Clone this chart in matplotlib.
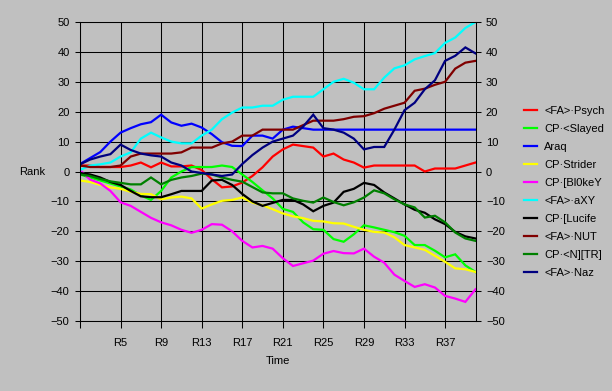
import numpy as np
import matplotlib
matplotlib.use('Agg')
import matplotlib.pyplot as plt

# rounds R1..R40 on the category axis
rounds = ['R%d' % i for i in range(1, 41)]

psych = [2, 2, 1.5, 1.5, 1.5, 2, 3, 1.4, 3, 1.7, 1.7, 2, 0.5, -2.6, -5.3, -5, -3.7, -1.5, 1.4, 5,
         7.4, 9, 8.5, 8, 5, 6, 4, 3, 1.3, 2, 2, 2, 2, 2, 0, 1, 1, 1, 2, 3]
slayed = [-1, -2, -3, -4, -5, -6, -8, -9.5, -6.5, -2, 0, 1.5, 1.5, 1.5, 2, 1.5, -1, -3.5, -6.3, -9,
          -12.5, -13.5, -17, -19.3, -19.5, -22.6, -23.5, -21, -18, -18.7, -19.5, -20.3, -21.5, -24.6, -24.6, -26.5, -28.7, -27.7, -31.4, -33.6]
araq = [2.5, 4.5, 6.5, 10, 13, 14.5, 15.8, 16.5, 19, 16.4, 15.3, 16, 14.7, 12.5, 9.8, 8.6, 8.5, 12, 12, 11,
        14, 15, 14.5, 14, 14, 14, 14, 14, 14, 14, 14, 14, 14, 14, 14, 14, 14, 14, 14, 14]
strider = [-3, -3.5, -4.5, -5.3, -5.8, -6.8, -7.5, -7.6, -9.3, -8.7, -8.4, -9, -12.4, -11, -9.8, -9.5, -8.7, -10.4, -11.3, -12.6,
           -14, -15, -15.6, -16.5, -16.7, -17.3, -17.4, -18.5, -19.5, -20.2, -20.4, -22, -24.6, -25.4, -26.2, -28.2, -30.2, -32.4, -32.7, -33.6]
blokey = [0.5, -2.7, -4, -6.5, -10.3, -11.5, -13.5, -15.5, -17, -18, -19.5, -20.5, -19.5, -17.6, -17.8, -20, -23.2, -25.4, -24.9, -25.8,
          -29, -31.6, -30.7, -29.8, -27.5, -26.6, -27.3, -27.4, -25.8, -28.5, -30.5, -34.5, -36.6, -38.6, -37.7, -38.8, -41.6, -42.5, -43.6, -39.4]
axy = [0.5, 2, 2.4, 3, 5, 6.4, 11, 13, 11.4, 10, 9.4, 9.4, 12, 14, 17.5, 19.7, 21.4, 21.4, 22, 22,
       24, 25, 25, 25, 27.5, 30, 31, 29.7, 27.5, 27.5, 31.4, 34.5, 35.5, 37.5, 38.6, 39.6, 43, 44.8, 48, 50]
lucife = [-0.5, -1, -2, -3.5, -4.5, -6.5, -8.3, -8.6, -8.6, -7.6, -6.5, -6.5, -6.5, -3, -2.8, -4.5, -7.5, -10, -11.5, -10.5,
          -9.5, -9.5, -11, -13.3, -11.5, -10.4, -6.8, -5.8, -3.8, -4.5, -7, -9, -11, -12.8, -13.8, -16, -17.6, -20.2, -21.7, -22.4]
nut = [2, 1.5, 1.5, 1.5, 2, 5, 6, 6, 6, 6, 6.4, 8, 8, 8, 9.4, 10, 12, 12, 14, 14,
       14, 14, 15.5, 17, 17, 17, 17.5, 18.3, 18.5, 19.5, 21, 22, 23, 27, 27.7, 29, 30, 34.4, 36.4, 37]
ntr = [-1, -1.5, -2.5, -3.3, -3.8, -4.3, -4.3, -2, -4.3, -2.8, -2, -1.5, -0.7, -1, -2, -2.8, -3.4, -5.2, -7, -7.3,
       -7.3, -9, -9.8, -10.4, -8.7, -10.2, -11.3, -10.3, -8.7, -6.3, -7.3, -9.3, -11, -12, -15.4, -14.8, -17, -20.4, -22.4, -23.2]
naz = [2.4, 4, 5, 5.8, 9, 7.2, 6, 5.4, 5, 3, 2, 0, -0.5, -1, -1.5, -1, 2.5, 5.5, 8, 10,
       11, 12, 15, 19, 14.5, 14, 13, 11, 7.4, 8.2, 8.2, 14, 20.5, 23, 27.5, 30.5, 37, 38.7, 41.5, 39.5]

players = ['<FA>·Psych', 'CP·<Slayed', 'Araq', 'CP·Strider', 'CP·[Bl0keY',
           '<FA>·aXY', 'CP·[Lucife', '<FA>·NUT', 'CP·<N][TR]', '<FA>·Naz']
series = [psych, slayed, araq, strider, blokey, axy, lucife, nut, ntr, naz]
colors = ['#ff0000', '#00ff00', '#0000ff', '#ffff00', '#ff00ff',
          '#00ffff', '#000000', '#800000', '#008000', '#000080']

plt.rcParams['font.family'] = ['Liberation Sans', 'DejaVu Sans']
plt.rcParams['font.size'] = 8

fig = plt.figure(figsize=(6.12, 3.91), dpi=100, facecolor='#c0c0c0')
ax = fig.add_axes([80 / 612, 1 - 321 / 391, 395.5 / 612, 299 / 391])
ax.set_facecolor('#c0c0c0')

x = np.arange(len(rounds))
for name, vals, c in zip(players, series, colors):
    ax.plot(x, vals, color=c, lw=1.6, label=name, solid_joinstyle='miter')

ax.set_xlim(0, len(rounds) - 1)
ax.set_ylim(-50, 50)
ax.set_yticks(np.arange(-50, 51, 10))
tick_pos = list(range(0, len(rounds), 4))
ax.set_xticks(tick_pos)
ax.set_xticklabels(['' if i == 0 else rounds[i] for i in tick_pos])
ax.grid(True, color='black', lw=0.75)
ax.set_axisbelow(True)
for s in ax.spines.values():
    s.set_color('black')
    s.set_linewidth(0.75)

ax.yaxis.set_ticks_position('both')
ax.tick_params(axis='y', labelright=True, direction='out', length=3.5, width=0.75, pad=4)
ax.tick_params(axis='x', direction='out', length=5, width=0.75, pad=7)

ax.set_xlabel('Time', labelpad=6)
ax.set_ylabel('Rank', rotation=0, labelpad=13, va='center')

fig.legend(loc='upper left', bbox_to_anchor=(518 / 612, 1 - 100 / 391), frameon=False,
           handlelength=1.25, handletextpad=0.6, labelspacing=0.72, borderpad=0)

fig.savefig('out.png', dpi=100, facecolor='#c0c0c0')
